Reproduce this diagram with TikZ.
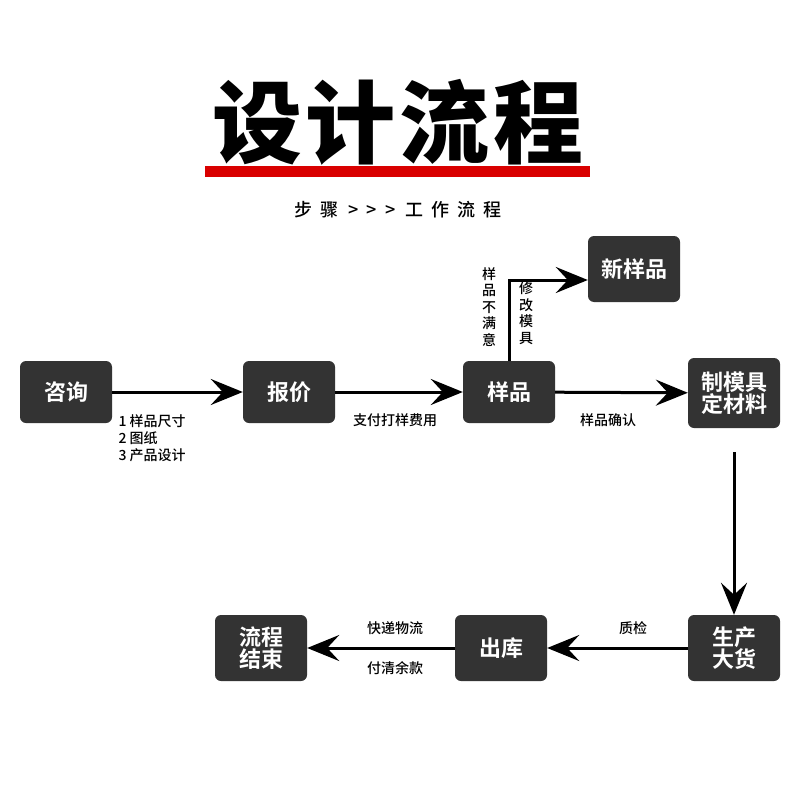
\documentclass[tikz,border=0pt]{standalone}
\usepackage{fontspec}
\setmainfont{Noto Sans CJK SC Medium}
\newfontfamily\cjkbold{Noto Sans CJK SC Bold}
\newfontfamily\cjkblack{Noto Sans CJK SC Black}
\usetikzlibrary{arrows.meta,positioning}
\tikzset{
  stepbox/.style={draw=none,fill=black!80,rounded corners=6pt,text=white,
    font=\cjkbold\fontsize{22}{25}\selectfont,align=center,
    minimum width=92pt,minimum height=62pt,inner sep=2pt},
  flow/.style={line width=3pt,-{Stealth[length=32pt,width=26pt,inset=12pt]}},
  note/.style={font=\fontsize{14}{18}\selectfont,align=left}
}
\begin{document}
\begin{tikzpicture}[x=1pt,y=-1pt]
\useasboundingbox[fill=white] (0,0) rectangle (800,800);
% title
\node (title) at (398,122) {\cjkblack\fontsize{90}{96}\selectfont 设\hspace{4pt}计\hspace{4pt}流\hspace{4pt}程};
\fill[red!85!black] (205,166) rectangle (590,177);
\node (sub) at (398,210) {\fontsize{18}{20}\selectfont 步\hspace{8pt}骤\hspace{10pt}>\hspace{8pt}>\hspace{8pt}>\hspace{10pt}工\hspace{8pt}作\hspace{8pt}流\hspace{8pt}程};
% steps
\node[stepbox] (ask) at (66,392) {咨询};
\node[stepbox] (quote) at (289,392) {报价};
\node[stepbox] (sample) at (509,392) {样品};
\node[stepbox,minimum height=70pt] (mold) at (734,393) {制模具\\[-3pt]定材料};
\node[stepbox,minimum height=66pt] (newsample) at (634,269) {新样品};
\node[stepbox,minimum height=66pt] (mass) at (734,648) {生产\\[-3pt]大货};
\node[stepbox,minimum height=66pt] (ship) at (501,648) {出库};
\node[stepbox,minimum height=66pt] (done) at (261,648) {流程\\[-3pt]结束};
% connectors
\draw[flow] (ask) -- (quote);
\draw[flow] (quote) -- (sample);
\draw[flow] (sample) -- (mold);
\draw[flow] (sample.north) |- ([yshift=-11pt]newsample.west);
\coordinate (down) at (734,452);
\draw[flow] (down) -- (mold.south |- mass.north);
\draw[flow] (mass) -- (ship);
\draw[flow] (ship) -- (done);
% labels
\node[note,anchor=north west,font=\fontsize{14}{17}\selectfont] (n1) at (115,411) {1 样品尺寸\\2 图纸\\3 产品设计};
\node[note] (n2) at (395,420) {支付打样费用};
\node[note] (n3) at (608,420) {样品确认};
\node[note,align=center,font=\fontsize{14}{16.5}\selectfont] (n4) at (489,307) {样\\品\\不\\满\\意};
\node[note,align=center,font=\fontsize{14}{16.5}\selectfont] (n5) at (526,313) {修\\改\\模\\具};
\node[note] (n6) at (633,628) {质检};
\node[note] (n7) at (395,628) {快递物流};
\node[note] (n8) at (395,668) {付清余款};
\end{tikzpicture}
\end{document}
